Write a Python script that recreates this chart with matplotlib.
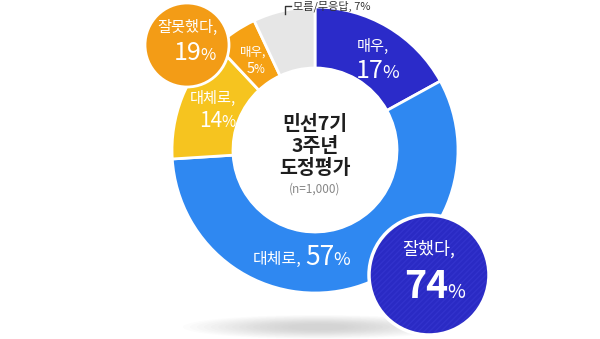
import matplotlib.pyplot as plt
from matplotlib.patches import Circle, Ellipse

plt.rcParams['font.family'] = ['Noto Sans CJK KR', 'DejaVu Sans']

# 민선7기 3주년 도정평가 (n=1,000)
labels = ['매우,', '대체로,', '대체로,', '매우,', '모름/무응답,']
values = [17, 57, 14, 5, 7]
colors = ['#2b2bc9', '#2f88f1', '#f6c41f', '#f5a114', '#e6e6e6']
good_total = 74
bad_total = 19

W, H = 600, 339
fig = plt.figure(figsize=(6, 3.39), dpi=100)
ax = fig.add_axes([0, 0, 1, 1])


def Y(y):
    return H - y


# soft shadow under the donut
for i in range(16):
    ax.add_patch(Ellipse((318, Y(327)), 270 - i * 14, 24 - i * 1.2,
                         color='#8a8a8a', alpha=0.025, lw=0, zorder=0))

cx, cy, r_out, r_in = 315, 150, 143, 82
ax.pie(values, colors=colors, startangle=90, counterclock=False,
       center=(cx, Y(cy)), radius=r_out, frame=True,
       wedgeprops=dict(width=r_out - r_in, edgecolor='white', linewidth=2))
ax.add_patch(Circle((cx, Y(cy)), r_in, color='white', zorder=3))

# centre text
for txt, yy in [('민선7기', 124), ('3주년', 146), ('도정평가', 168)]:
    ax.text(cx, Y(yy), txt, ha='center', va='center', fontsize=14,
            fontweight='bold', color='#1e1e1e', zorder=5)
ax.text(cx, Y(189), '(n=1,000)', ha='center', va='center', fontsize=8.5,
        color='#888888', zorder=5)


def pct(x, y, num, size, psize, color='white', bold=False):
    w = 'bold' if bold else 'normal'
    ax.text(x, Y(y), num, ha='right', va='baseline', fontsize=size,
            color=color, fontweight=w, zorder=6)
    ax.text(x - 1, Y(y), '%', ha='left', va='baseline', fontsize=psize,
            color=color, zorder=6)


# slice labels
ax.text(373, Y(46), labels[0], ha='center', va='center', fontsize=11, color='white', zorder=6)
pct(383, 78, str(values[0]), 18, 13)
ax.text(213, Y(98), labels[2], ha='center', va='center', fontsize=11, color='white', zorder=6)
pct(222, 127, str(values[2]), 15, 11)
ax.text(253, Y(52), labels[3], ha='center', va='center', fontsize=9, color='white', zorder=6)
pct(255, 73, str(values[3]), 10.5, 8.5)
ax.text(301, Y(264), labels[1], ha='right', va='baseline', fontsize=11.5, color='white', zorder=6)
pct(334, 265, str(values[1]), 19, 13)

# top label with leader line
ax.plot([285, 285, 291], [Y(14), Y(6), Y(6)], color='#333333', lw=1, zorder=6)
ax.text(293, Y(6), labels[4] + ' ' + str(values[4]) + '%', ha='left', va='center',
        fontsize=8, color='#333333', zorder=6)

# badge circles
ax.add_patch(Circle((187, Y(45)), 42, facecolor='#f39c16', edgecolor='white',
                    lw=2, zorder=4))
ax.text(187, Y(27), '잘못했다,', ha='center', va='center', fontsize=11,
        color='white', zorder=6)
pct(201, 60, str(bad_total), 18, 12)

ax.add_patch(Circle((429, Y(275)), 60, facecolor='#2a2ac4', edgecolor='#3232cc',
                    hatch='//////', lw=0, zorder=4))
ax.add_patch(Circle((429, Y(275)), 60, fill=False, edgecolor='white', lw=2.5, zorder=4))
ax.text(429, Y(249), '잘했다,', ha='center', va='center', fontsize=12.5,
        color='white', zorder=6)
pct(448, 298, str(good_total), 27, 14, bold=True)

ax.set_xlim(0, W)
ax.set_ylim(0, H)
ax.set_aspect('equal')
ax.axis('off')

fig.savefig('out.png', dpi=100)
